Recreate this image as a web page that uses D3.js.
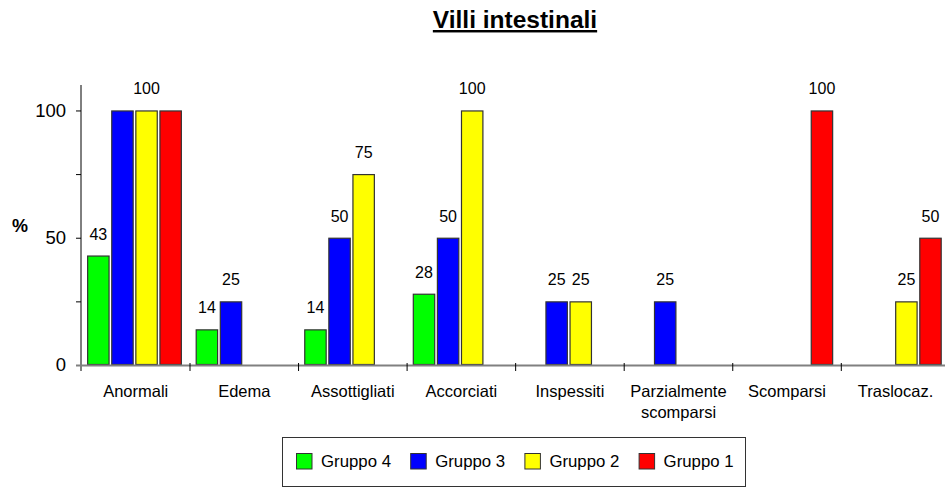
<!DOCTYPE html>
<html><head><meta charset="utf-8">
<script src="https://cdn.jsdelivr.net/npm/d3@7"></script>
<style>
html,body{margin:0;padding:0;background:#fff;}
svg{display:block;font-family:"Liberation Sans",Arial,sans-serif;}
</style></head>
<body><svg id="c" width="945" height="488"></svg>
<script>
const categories = ["Anormali","Edema","Assottigliati","Accorciati","Inspessiti","Parzialmente\nscomparsi","Scomparsi","Traslocaz."];
const seriesNames = ["Gruppo 4","Gruppo 3","Gruppo 2","Gruppo 1"];
const seriesColors = ["#00FF00","#0000FF","#FFFF00","#FF0000"];
const gruppo4 = [43,14,14,28,null,null,null,null];
const gruppo3 = [100,25,50,50,25,25,null,null];
const gruppo2 = [100,null,75,100,25,null,null,25];
const gruppo1 = [100,null,null,null,null,null,100,50];
const seriesValues = [gruppo4,gruppo3,gruppo2,gruppo1];
const hiddenLabels = ["0|Gruppo 3","0|Gruppo 1"];
const yTicksMajor = [0,50,100];
const yTicksMinor = [25,75];
const title = "Villi intestinali";
const yTitle = "%";

const svg = d3.select("#c");
const x = d3.scaleBand().domain(d3.range(categories.length)).range([81.45, 949.85]).padding(0);
const xi = d3.scaleBand().domain(seriesNames).range([5.7, 100.4]).paddingInner(0.07);
const y = d3.scaleLinear().domain([0,110]).range([365,85]);

// title
svg.append("text").attr("x",515).attr("y",28).attr("text-anchor","middle")
  .attr("font-size",24.5).attr("font-weight","bold").attr("text-decoration","underline").text(title);

// y title
svg.append("text").attr("x",20).attr("y",232).attr("text-anchor","middle")
  .attr("font-size",18).attr("font-weight","bold").text(yTitle);

// bars
const rows = [];
seriesNames.forEach((s,si)=>{
  seriesValues[si].forEach((v,ci)=>{ if(v!==null) rows.push({s,si,ci,v}); });
});
svg.append("g").selectAll("rect").data(rows).join("rect")
  .attr("x",d=>x(d.ci)+xi(d.s)+0.5)
  .attr("y",d=>y(d.v)+0.5)
  .attr("width",xi.bandwidth()-1)
  .attr("height",d=>y(0)-y(d.v)-1)
  .attr("fill",d=>seriesColors[d.si])
  .attr("stroke","#333").attr("stroke-width",1.2);

// labels
svg.append("g").selectAll("text").data(rows.filter(d=>!hiddenLabels.includes(d.ci+"|"+d.s))).join("text")
  .attr("x",d=>x(d.ci)+xi(d.s)+xi.bandwidth()/2)
  .attr("y",d=>y(d.v)-16)
  .attr("text-anchor","middle").attr("font-size",16).text(d=>d.v);

// y axis
const yAxis = d3.axisLeft(y).tickValues(yTicksMajor).tickSize(5).tickPadding(10);
const ga = svg.append("g").attr("transform","translate(81,0)").call(yAxis);
ga.select(".domain").remove();
ga.selectAll("text").attr("font-size",18.5).attr("font-family","Liberation Sans, Arial, sans-serif").attr("fill","#000");
ga.selectAll("line").attr("stroke","#000");
const gm = svg.append("g").attr("transform","translate(81,0)").call(d3.axisLeft(y).tickValues(yTicksMinor).tickSize(5).tickFormat(""));
gm.select(".domain").remove();
gm.selectAll("line").attr("stroke","#000");
svg.append("line").attr("x1",81).attr("x2",81).attr("y1",y(110)).attr("y2",371).attr("stroke","#000").attr("stroke-width",1);

// x axis
svg.append("line").attr("x1",76).attr("x2",945).attr("y1",365.5).attr("y2",365.5).attr("stroke","#808080").attr("stroke-width",2);
svg.append("g").selectAll("line").data(d3.range(1,categories.length)).join("line")
  .attr("x1",d=>x(d)).attr("x2",d=>x(d)).attr("y1",363).attr("y2",371).attr("stroke","#000");
const cl = svg.append("g").selectAll("text").data(categories).join("text")
  .attr("x",(d,i)=>x(i)+x.bandwidth()/2).attr("y",397).attr("text-anchor","middle")
  .attr("font-size",16.5);
cl.each(function(d){
  const lines = d.split("\n");
  const t = d3.select(this);
  lines.forEach((l,k)=>t.append("tspan").attr("x",t.attr("x")).attr("dy",k?21:0).text(l));
});

// legend
svg.append("rect").attr("x",282.5).attr("y",437.5).attr("width",463).attr("height",49).attr("fill","#fff").attr("stroke","#333");
const lg = svg.append("g").selectAll("g").data(seriesNames).join("g")
  .attr("transform",(d,i)=>`translate(${296+i*114.2},453)`);
lg.append("rect").attr("x",0.5).attr("y",0.5).attr("width",15.5).attr("height",15.5)
  .attr("fill",(d,i)=>seriesColors[i]).attr("stroke","#333");
lg.append("text").attr("x",25).attr("y",14).attr("font-size",16.8).text(d=>d);
</script></body></html>
